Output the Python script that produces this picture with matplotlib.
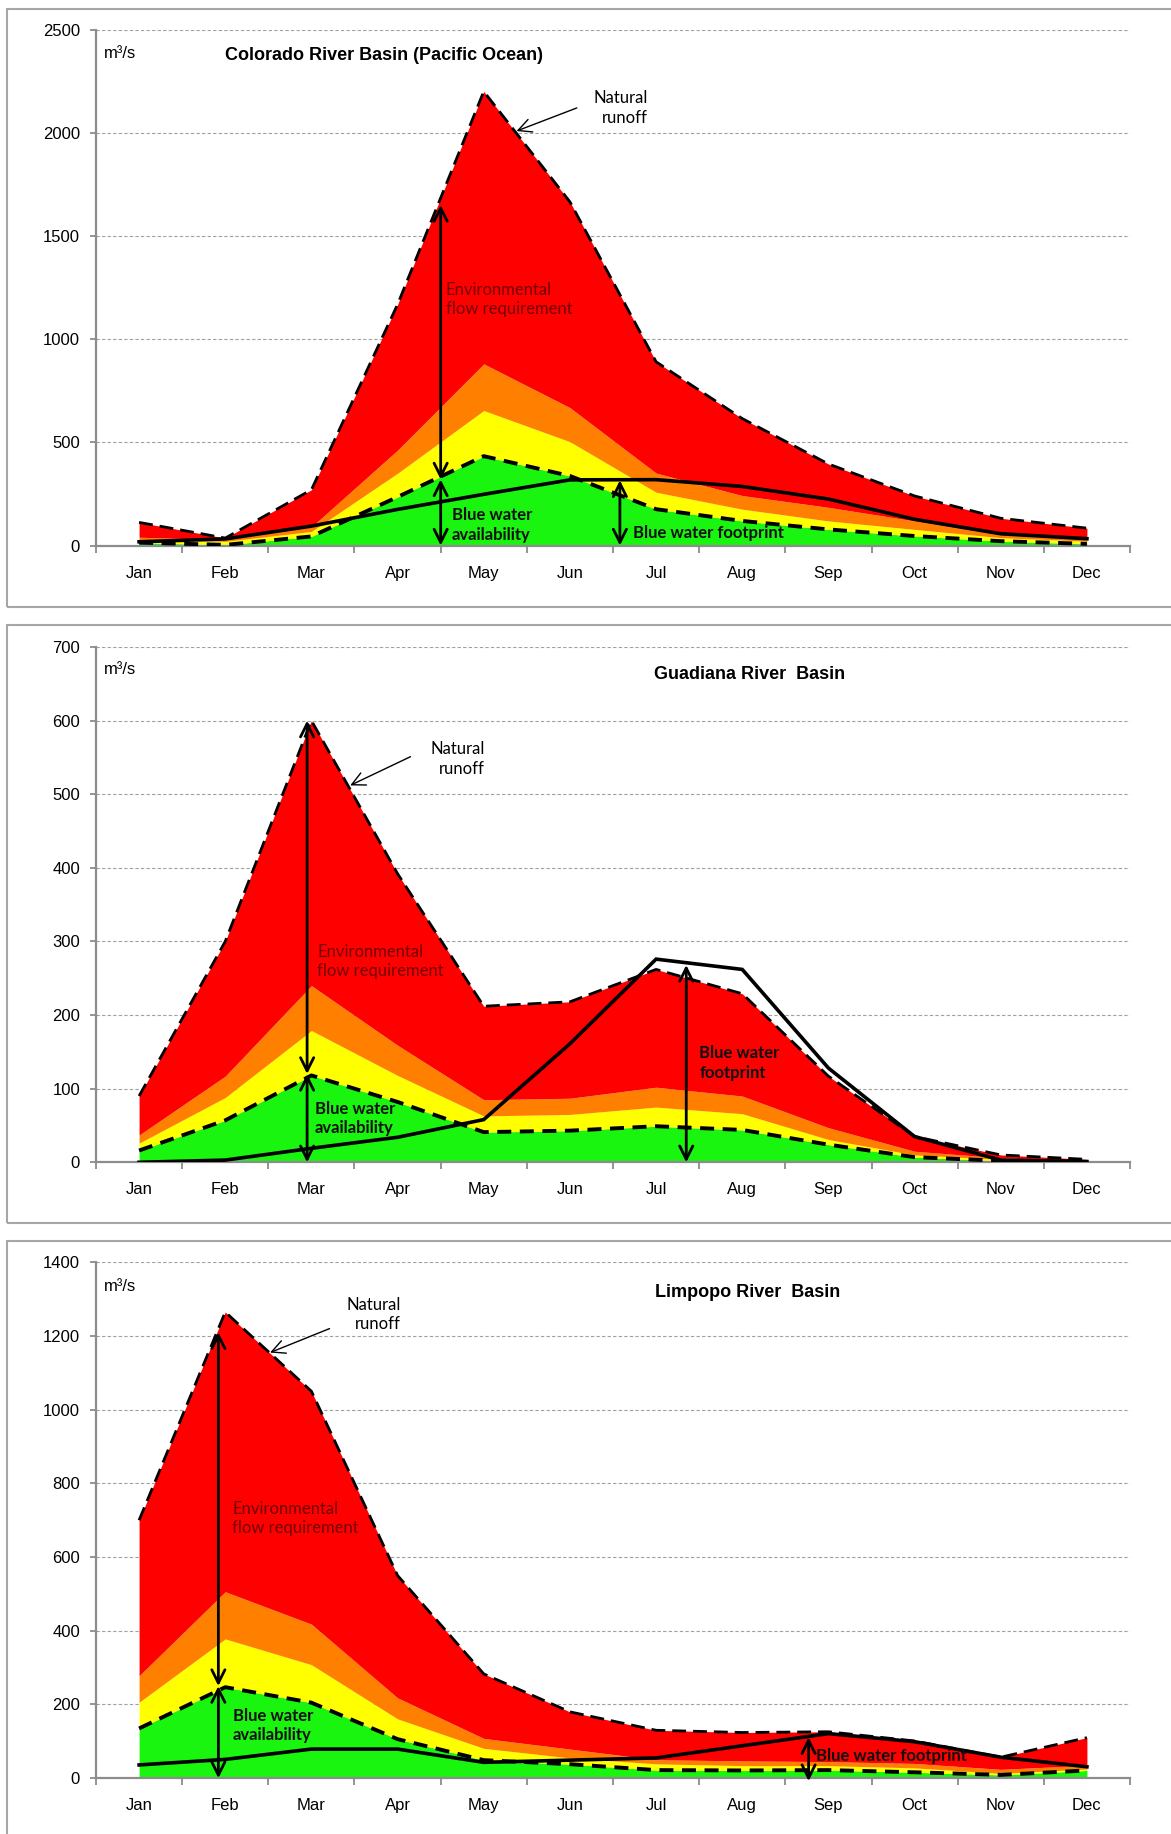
import numpy as np
import matplotlib.pyplot as plt
from matplotlib.patches import Rectangle

months = ['Jan', 'Feb', 'Mar', 'Apr', 'May', 'Jun',
          'Jul', 'Aug', 'Sep', 'Oct', 'Nov', 'Dec']

# Colorado River Basin (Pacific Ocean), m3/s
col_runoff = [112, 36, 270, 1168, 2200, 1665, 890, 615, 395, 240, 132, 84]
col_significant = [40, 28, 90, 462, 880, 668, 351, 242, 185, 119, 51, 29]
col_moderate = [28, 20, 68, 350, 654, 503, 258, 176, 119, 78, 38, 21]
col_avail = [14, 3, 44, 235, 433, 337, 176, 119, 78, 46, 21, 8]
col_footprint = [18, 32, 94, 175, 248, 318, 319, 286, 225, 127, 57, 33]

# Guadiana River Basin
gua_runoff = [90, 300, 600, 392, 212, 218, 262, 229, 117, 35, 10, 4]
gua_significant = [37, 117, 240, 159, 85, 87, 102, 90, 47, 15, 6, 2]
gua_moderate = [26, 88, 179, 118, 63, 65, 75, 66, 31, 10, 4, 1]
gua_avail = [16, 57, 118, 82, 41, 43, 49, 44, 24, 7, 2, 0.5]
gua_footprint = [0, 3, 19, 34, 58, 161, 276, 262, 128, 35, 3, 1]

# Limpopo River Basin
lim_runoff = [700, 1265, 1050, 550, 283, 180, 130, 124, 126, 101, 57, 110]
lim_significant = [278, 506, 418, 218, 108, 79, 50, 47, 45, 40, 24, 35]
lim_moderate = [206, 378, 308, 161, 81, 55, 39, 34, 34, 28, 13, 25]
lim_avail = [135, 247, 205, 106, 49, 38, 22, 21, 22, 16, 9, 21]
lim_footprint = [36, 51, 79, 79, 43, 49, 55, 88, 121, 99, 57, 31]

RED, ORANGE, YELLOW, GREEN = '#FF0000', '#FF8000', '#FFFF00', '#19F50F'
GREY = '#8C8C8C'
TICKFONT = 'Liberation Sans'
LABFONT = 'Lato'

panels = [
    dict(title='Colorado River Basin (Pacific Ocean)', title_x=0.279, title_y=0.949, unit_y=0.954,
         ymax=2500, step=500,
         data=(col_runoff, col_significant, col_moderate, col_avail, col_footprint),
         runoff_txt=(5.90, 2120), runoff_arrow=((5.08, 2120), (4.38, 2008)),
         env_txt=(3.56, 1191), avail_txt=(3.63, 99),
         fp_txt=(5.73, 61, 'Blue water footprint'),
         env_arrow=(3.5, 320, 1650), fp_arrow=(5.58, 0, 316)),
    dict(title='Guadiana River  Basin', title_x=0.632, title_y=0.946, unit_y=0.957,
         ymax=700, step=100,
         data=(gua_runoff, gua_significant, gua_moderate, gua_avail, gua_footprint),
         runoff_txt=(4.01, 548), runoff_arrow=((3.15, 551), (2.45, 512)),
         env_txt=(2.07, 273), avail_txt=(2.04, 60),
         fp_txt=(6.50, 135, 'Blue water\nfootprint'),
         env_arrow=(1.95, 120, 600), fp_arrow=(6.35, 0, 268)),
    dict(title='Limpopo River  Basin', title_x=0.630, title_y=0.942, unit_y=0.954,
         ymax=1400, step=200,
         data=(lim_runoff, lim_significant, lim_moderate, lim_avail, lim_footprint),
         runoff_txt=(3.04, 1259), runoff_arrow=((2.21, 1220), (1.52, 1155)),
         env_txt=(1.08, 705), avail_txt=(1.09, 142),
         fp_txt=(7.86, 59, 'Blue water footprint'),
         env_arrow=(0.92, 250, 1210), fp_arrow=(7.77, -8, 111)),
]

fig = plt.figure(figsize=(11.71, 18.34), dpi=100)

# panel frames (gray boxes), in pixels of the 1171x1834 canvas
frame_tops = [8.7, 624.7, 1241]
for top in frame_tops:
    fig.add_artist(Rectangle((7 / 1171, 1 - (top + 598) / 1834), 1.2, 598 / 1834,
                             transform=fig.transFigure, fill=False,
                             edgecolor='#A6A6A6', linewidth=1.5))

axes_pos = [(0.70256, 0.28135), (0.36625, 0.28097), (0.03043, 0.28130)]
x = np.arange(12)

for p, (bottom, height) in zip(panels, axes_pos):
    ax = fig.add_axes([0.08198, bottom, 0.88301, height])
    runoff, sig, mod, avail, fp = [np.array(d, dtype=float) for d in p['data']]

    ax.fill_between(x, 0, avail, color=GREEN, lw=0, zorder=1)
    ax.fill_between(x, avail, mod, color=YELLOW, lw=0, zorder=1)
    ax.fill_between(x, mod, sig, color=ORANGE, lw=0, zorder=1)
    ax.fill_between(x, sig, runoff, color=RED, lw=0, zorder=1)

    ax.plot(x, runoff, color='black', lw=2.0, dashes=(5, 2.5), zorder=3)
    ax.plot(x, avail, color='black', lw=2.8, dashes=(3.6, 2.2), zorder=3)
    ax.plot(x, fp, color='black', lw=2.6, solid_joinstyle='miter', zorder=3)

    ax.set_xlim(-0.5, 11.5)
    ax.set_ylim(0, p['ymax'])
    ax.set_yticks(np.arange(0, p['ymax'] + 1, p['step']))
    ax.set_xticks(np.arange(-0.5, 12, 1))
    ax.set_xticklabels([])
    ax.set_xticks(x, minor=True)
    ax.set_xticklabels(months, minor=True)
    ax.tick_params(axis='x', which='major', length=5, width=1.3, color=GREY, direction='out')
    ax.tick_params(axis='x', which='minor', length=0, pad=14.5, labelsize=12)
    ax.tick_params(axis='y', length=4, width=1.3, color=GREY, direction='out', pad=7.5, labelsize=12)
    for lab in ax.get_xticklabels(minor=True) + ax.get_yticklabels():
        lab.set_fontfamily(TICKFONT)

    for side in ('top', 'right'):
        ax.spines[side].set_visible(False)
    for side in ('left', 'bottom'):
        ax.spines[side].set_color(GREY)
        ax.spines[side].set_linewidth(1.6)
        ax.spines[side].set_zorder(2)

    ax.set_axisbelow(True)
    ax.yaxis.grid(True, color='#A0A0A0', linestyle=(0, (3, 2)), linewidth=0.8)

    ax.text(0.008, p['unit_y'], 'm³/s', transform=ax.transAxes, fontsize=12,
            family=TICKFONT, va='center', ha='left')
    ax.text(p['title_x'], p['title_y'], p['title'], transform=ax.transAxes, fontsize=13,
            family=TICKFONT, weight='bold', va='center', ha='center')

    # natural runoff label with pointer
    tx, ty = p['runoff_txt']
    ax.text(tx, ty, 'Natural\nrunoff', fontsize=12, family=LABFONT, ha='right',
            va='center', multialignment='right', linespacing=1.25, zorder=5)
    (ax0, ay0), (ax1, ay1) = p['runoff_arrow']
    ax.annotate('', xy=(ax1, ay1), xytext=(ax0, ay0),
                arrowprops=dict(arrowstyle='->, head_length=0.6, head_width=0.3',
                                lw=1.0, color='black', shrinkA=0, shrinkB=0,
                                mutation_scale=16), zorder=5)

    # vertical double arrows
    ex, elo, ehi = p['env_arrow']
    style = dict(arrowstyle='<->, head_length=0.5, head_width=0.25', lw=2.0,
                 color='black', shrinkA=0, shrinkB=0, mutation_scale=19)
    ax.annotate('', xy=(ex, ehi), xytext=(ex, elo), arrowprops=style,
                annotation_clip=False, zorder=4)
    ax.annotate('', xy=(ex, elo), xytext=(ex, 0), arrowprops=style,
                annotation_clip=False, zorder=4)
    fx, flo, fhi = p['fp_arrow']
    ax.annotate('', xy=(fx, fhi), xytext=(fx, flo), arrowprops=style,
                annotation_clip=False, zorder=4)

    ex_t, ey_t = p['env_txt']
    ax.text(ex_t, ey_t, 'Environmental\nflow requirement', fontsize=12, family=LABFONT,
            color='#720000', ha='left', va='center', linespacing=1.25, zorder=5)
    bx, by = p['avail_txt']
    ax.text(bx, by, 'Blue water\navailability', fontsize=12, family=LABFONT,
            weight='bold', color='#101010', ha='left', va='center', linespacing=1.25, zorder=5)
    fx_t, fy_t, ftxt = p['fp_txt']
    ax.text(fx_t, fy_t, ftxt, fontsize=12, family=LABFONT, weight='bold',
            color='#101010', ha='left', va='center', linespacing=1.25, zorder=5)

fig.savefig('out.png', dpi=100)
